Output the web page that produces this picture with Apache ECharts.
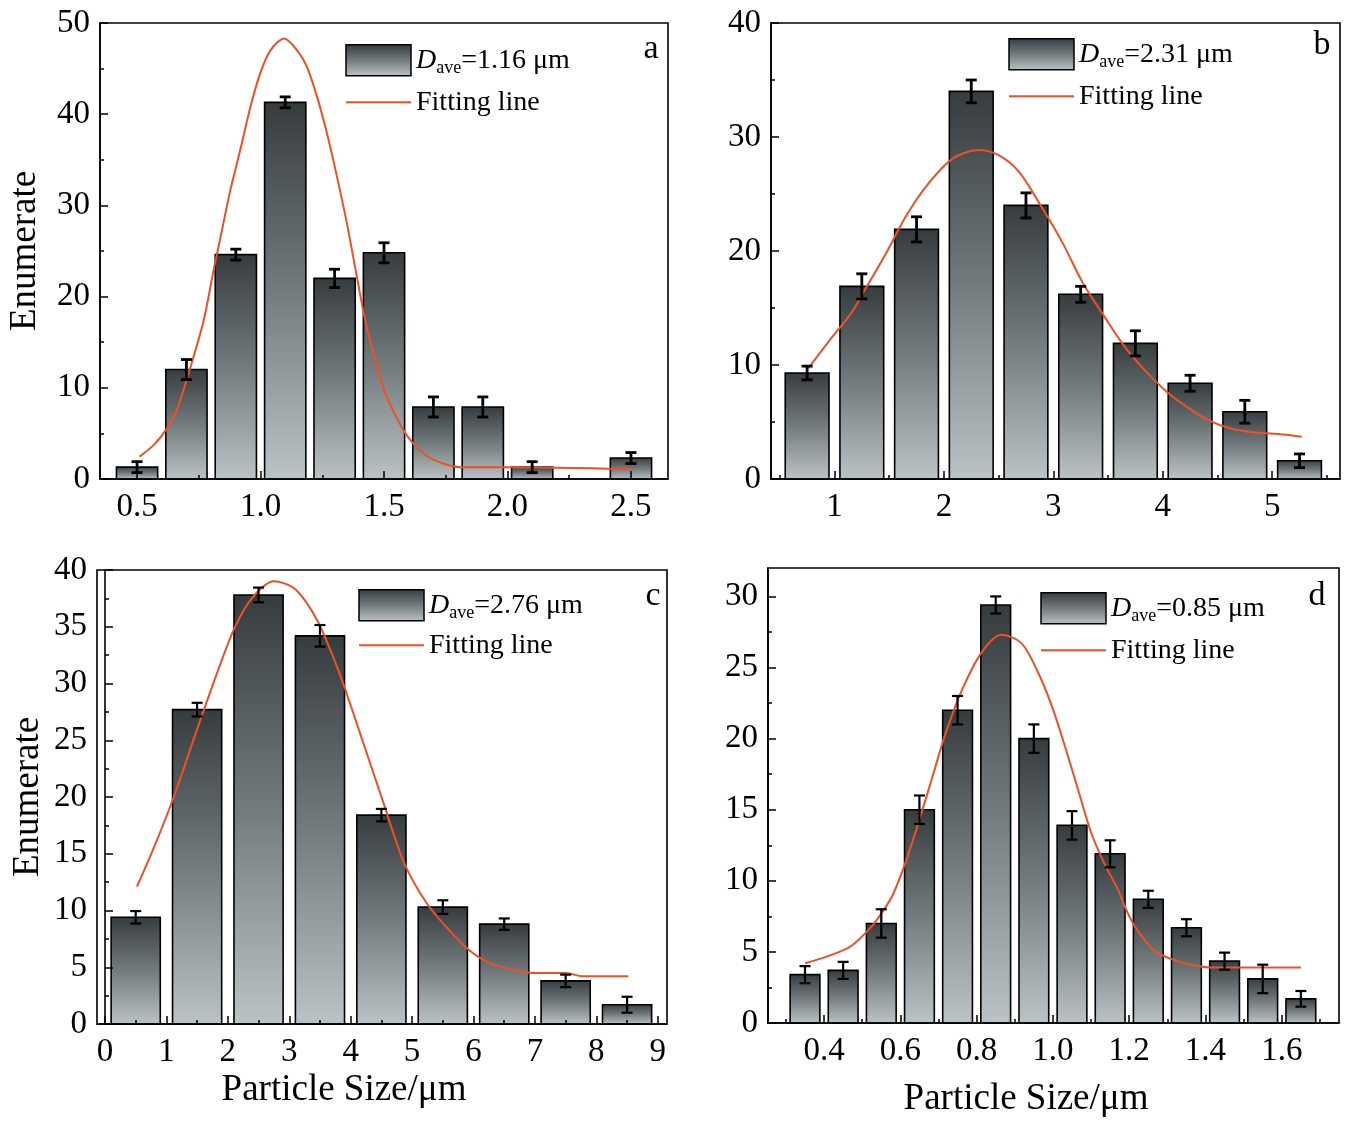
<!DOCTYPE html>
<html>
<head>
<meta charset="utf-8">
<title>Particle size distributions</title>
<script src="https://cdn.jsdelivr.net/npm/echarts@6/dist/echarts.min.js"></script>
</head>
<body style="margin:0;padding:0;background:#fff">
<div id="main" style="width:1346px;height:1121px;"></div>
<script type="text/javascript">
var FONT = '"Liberation Serif", "Times New Roman", serif';
var RED = '#ef5026';

// panel a
var aX = [0.5, 0.7, 0.9, 1.1, 1.3, 1.5, 1.7, 1.9, 2.1, 2.5];
var aCount = [1.3, 12.0, 24.6, 41.3, 22.0, 24.8, 7.9, 7.9, 1.3, 2.3];
var aErr = [0.6, 1.1, 0.6, 0.6, 1.0, 1.1, 1.1, 1.1, 0.6, 0.6];
var aFitX = [0.51, 0.57, 0.62, 0.66, 0.71, 0.77, 0.81, 0.844, 0.878, 0.918, 0.959, 0.999, 1.04, 1.096, 1.148, 1.188, 1.229, 1.269, 1.31, 1.35, 1.39, 1.43, 1.50, 1.55, 1.60, 1.67, 1.74, 1.81, 2.00, 2.50];
var aFitY = [2.45, 3.8, 5.5, 7.5, 11.7, 17.4, 22.9, 27.3, 31.7, 36.1, 40.8, 44.5, 47.0, 48.3, 47.0, 45.2, 41.9, 37.9, 33.1, 28.0, 22.2, 16.7, 9.8, 6.8, 4.5, 2.6, 1.7, 1.3, 1.3, 1.1];
var aXTicks = [0.5, 1.0, 1.5, 2.0, 2.5];
var aXMinor = [0.75, 1.25, 1.75, 2.25];
var aYTicks = [0, 10, 20, 30, 40, 50];
var aYMinor = [5, 15, 25, 35, 45];
var aDave = '1.16';

// panel b
var bX = [0.75, 1.25, 1.75, 2.25, 2.75, 3.25, 3.75, 4.25, 4.75, 5.25];
var bCount = [9.3, 16.9, 21.9, 34.0, 24.0, 16.2, 11.9, 8.4, 5.9, 1.6];
var bErr = [0.6, 1.1, 1.1, 1.0, 1.1, 0.7, 1.1, 0.7, 1.0, 0.6];
var bFitX = [0.76, 0.95, 1.15, 1.26, 1.46, 1.65, 1.84, 2.08, 2.31, 2.50, 2.69, 2.89, 3.08, 3.27, 3.47, 3.66, 3.85, 4.05, 4.24, 4.43, 4.63, 4.82, 5.10, 5.27];
var bFitY = [9.7, 12.1, 14.5, 16.3, 19.6, 23.0, 25.7, 28.1, 28.85, 28.4, 26.9, 23.9, 20.8, 17.2, 14.2, 11.5, 9.4, 7.55, 6.2, 5.1, 4.4, 4.1, 3.9, 3.7];
var bXTicks = [1, 2, 3, 4, 5];
var bXMinor = [0.5, 1.5, 2.5, 3.5, 4.5, 5.5];
var bYTicks = [0, 10, 20, 30, 40];
var bYMinor = [5, 15, 25, 35];
var bDave = '2.31';

// panel c
var cX = [0.5, 1.5, 2.5, 3.5, 4.5, 5.5, 6.5, 7.5, 8.5];
var cCount = [9.4, 27.7, 37.8, 34.2, 18.4, 10.3, 8.8, 3.8, 1.7];
var cErr = [0.55, 0.6, 0.65, 0.95, 0.55, 0.6, 0.5, 0.55, 0.7];
var cFitX = [0.52, 0.77, 1.12, 1.47, 1.83, 2.11, 2.39, 2.75, 3.10, 3.46, 3.81, 4.16, 4.52, 4.87, 5.23, 5.58, 5.93, 6.29, 6.64, 6.96, 7.50, 7.78, 8.52];
var cFitY = [12.1, 15.2, 20.0, 25.5, 31.0, 34.9, 37.5, 39.0, 38.3, 35.5, 31.0, 25.5, 19.7, 14.2, 10.7, 8.4, 6.5, 5.3, 4.8, 4.5, 4.5, 4.2, 4.2];
var cXTicks = [0, 1, 2, 3, 4, 5, 6, 7, 8, 9];
var cXMinor = [0.5, 1.5, 2.5, 3.5, 4.5, 5.5, 6.5, 7.5, 8.5];
var cYTicks = [0, 5, 10, 15, 20, 25, 30, 35, 40];
var cYMinor = [2.5, 7.5, 12.5, 17.5, 22.5, 27.5, 32.5, 37.5];
var cDave = '2.76';

// panel d
var dX = [0.35, 0.45, 0.55, 0.65, 0.75, 0.85, 0.95, 1.05, 1.15, 1.25, 1.35, 1.45, 1.55, 1.65];
var dCount = [3.4, 3.7, 7.0, 15.0, 22.0, 29.4, 20.0, 13.9, 11.9, 8.7, 6.7, 4.35, 3.1, 1.7];
var dErr = [0.6, 0.6, 1.0, 1.0, 1.0, 0.6, 1.0, 1.0, 0.95, 0.6, 0.6, 0.6, 1.0, 0.55];
var dFitX = [0.35, 0.41, 0.47, 0.525, 0.555, 0.58, 0.615, 0.65, 0.684, 0.719, 0.762, 0.814, 0.866, 0.918, 0.962, 0.997, 1.031, 1.066, 1.10, 1.135, 1.17, 1.20, 1.23, 1.27, 1.32, 1.36, 1.42, 1.65];
var dFitY = [4.2, 4.7, 5.4, 6.8, 7.9, 9.0, 11.4, 14.3, 17.3, 20.4, 23.45, 26.1, 27.3, 26.7, 24.6, 22.3, 19.5, 16.4, 13.4, 11.2, 9.4, 7.5, 6.2, 5.0, 4.4, 4.1, 3.9, 3.9];
var dXTicks = [0.4, 0.6, 0.8, 1.0, 1.2, 1.4, 1.6];
var dXMinor = [0.3, 0.5, 0.7, 0.9, 1.1, 1.3, 1.5, 1.7];
var dYTicks = [0, 5, 10, 15, 20, 25, 30];
var dYMinor = [2.5, 7.5, 12.5, 17.5, 22.5, 27.5];
var dDave = '0.85';

function zip() {
    var cols = Array.prototype.slice.call(arguments);
    return cols[0].map(function (v, i) {
        return cols.map(function (c) { return c[i]; });
    });
}

function barFill() {
    return new echarts.graphic.LinearGradient(0, 0, 0, 1, [
        { offset: 0, color: '#363b3e' },
        { offset: 0.5, color: '#737b7f' },
        { offset: 1, color: '#bcc3c6' }
    ]);
}

var panels = [
    { key: 'a', x: aX, y: aCount, e: aErr, fx: aFitX, fy: aFitY, w: 0.167, dave: aDave,
      xmin: 0.35, xmax: 2.65, ymax: 50, xt: aXTicks, xm: aXMinor, yt: aYTicks, ym: aYMinor, dec: 1,
      grid: { left: 100, top: 23, width: 568, height: 456 },
      legend: { left: 345, top: 44, gap: 11 }, letter: [651, 49], errW: 2.8,
      yName: 'Enumerate', yGap: 56 },
    { key: 'b', x: bX, y: bCount, e: bErr, fx: bFitX, fy: bFitY, w: 0.4, dave: bDave,
      xmin: 0.42, xmax: 5.62, ymax: 40, xt: bXTicks, xm: bXMinor, yt: bYTicks, ym: bYMinor, dec: 0,
      grid: { left: 771, top: 23, width: 569, height: 456 },
      legend: { left: 1008, top: 38, gap: 11 }, letter: [1322, 45], errW: 2.8 },
    { key: 'c', x: cX, y: cCount, e: cErr, fx: cFitX, fy: cFitY, w: 0.8, dave: cDave,
      xmin: -0.13, xmax: 9.15, ymax: 40, xt: cXTicks, xm: cXMinor, yt: cYTicks, ym: cYMinor, dec: 0,
      grid: { left: 97, top: 570, width: 570, height: 454 },
      legend: { left: 358, top: 589, gap: 9 }, letter: [653, 596], errW: 2.2,
      yName: 'Enumerate', yGap: 50, xName: 'Particle Size/\u03bcm', xGap: 48, xShift: 76 },
    { key: 'd', x: dX, y: dCount, e: dErr, fx: dFitX, fy: dFitY, w: 0.078, dave: dDave,
      xmin: 0.253, xmax: 1.75, ymax: 32, xt: dXTicks, xm: dXMinor, yt: dYTicks, ym: dYMinor, dec: 1,
      grid: { left: 768, top: 568, width: 571, height: 455 },
      legend: { left: 1040, top: 592, gap: 11 }, letter: [1317, 596], errW: 2.2,
      xName: 'Particle Size/\u03bcm', xGap: 58, xShift: 55 }
];

var grids = [], xAxes = [], yAxes = [], series = [], legends = [], texts = [];
var daveOf = {};

panels.forEach(function (p, gi) {
    grids.push({
        left: p.grid.left, top: p.grid.top, width: p.grid.width, height: p.grid.height,
        show: true, borderColor: '#000', borderWidth: 1.6, backgroundColor: 'transparent',
        outerBoundsMode: 'none'
    });
    var xi = xAxes.length, yi = yAxes.length;
    var lbl = { fontFamily: FONT, fontSize: 33, color: '#000' };
    // main axes
    xAxes.push({
        type: 'value', gridIndex: gi, position: 'bottom', min: p.xmin, max: p.xmax, z: 5,
        axisLine: { lineStyle: { color: '#000', width: 1.6 } },
        axisTick: { inside: true, length: 8, lineStyle: { color: '#000', width: 1.5 }, customValues: p.xt },
        axisLabel: Object.assign({ margin: 12, customValues: p.xt, formatter: function (v) { return v.toFixed(p.dec); } }, lbl),
        splitLine: { show: false },
        name: p.xName || '', nameLocation: 'middle', nameGap: p.xGap || 0,
        nameTextStyle: { fontFamily: FONT, fontSize: 37, color: '#000', padding: [0, p.xShift || 0, 0, 0] }
    });
    yAxes.push({
        type: 'value', gridIndex: gi, position: 'left', min: 0, max: p.ymax, z: 5,
        axisLine: { lineStyle: { color: '#000', width: 1.6 } },
        axisTick: { inside: true, length: 8, lineStyle: { color: '#000', width: 1.5 }, customValues: p.yt },
        axisLabel: Object.assign({ margin: 10, customValues: p.yt }, lbl),
        splitLine: { show: false },
        name: p.yName || '', nameLocation: 'middle', nameGap: p.yGap || 0,
        nameTextStyle: { fontFamily: FONT, fontSize: 37, color: '#000' }
    });
    // minor tick axes
    xAxes.push({
        type: 'value', gridIndex: gi, position: 'bottom', min: p.xmin, max: p.xmax, z: 5,
        axisLine: { show: false },
        axisTick: { inside: true, length: 4, lineStyle: { color: '#000', width: 1.5 }, customValues: p.xm },
        axisLabel: { show: false, customValues: p.xm },
        splitLine: { show: false }
    });
    yAxes.push({
        type: 'value', gridIndex: gi, position: 'left', min: 0, max: p.ymax, z: 5,
        axisLine: { show: false },
        axisTick: { inside: true, length: 4, lineStyle: { color: '#000', width: 1.5 }, customValues: p.ym },
        axisLabel: { show: false, customValues: p.ym },
        splitLine: { show: false }
    });

    var barName = 'Dave-' + p.key;
    daveOf[barName] = p.dave;
    var w = p.w, ew = p.errW;
    series.push({
        name: barName, type: 'custom', xAxisIndex: xi, yAxisIndex: yi, z: 2,
        itemStyle: { color: barFill(), borderColor: '#000', borderWidth: 1.5 },
        encode: { x: 0, y: 1 },
        data: zip(p.x, p.y),
        renderItem: function (params, api) {
            var x = api.value(0), y = api.value(1);
            var p0 = api.coord([x - w / 2, y]);
            var p1 = api.coord([x + w / 2, 0]);
            return {
                type: 'rect',
                shape: { x: p0[0], y: p0[1], width: p1[0] - p0[0], height: p1[1] - p0[1] },
                style: { fill: barFill(), stroke: '#000', lineWidth: 1.6 }
            };
        }
    });
    series.push({
        name: 'err-' + p.key, type: 'custom', xAxisIndex: xi, yAxisIndex: yi, z: 6,
        encode: { x: 0, y: 1 },
        data: zip(p.x, p.y, p.e),
        renderItem: function (params, api) {
            var x = api.value(0), y = api.value(1), e = api.value(2);
            var t = api.coord([x, y + e]), b = api.coord([x, y - e]);
            var cap = 5.5, st = { stroke: '#000', lineWidth: ew };
            return {
                type: 'group',
                children: [
                    { type: 'line', shape: { x1: t[0], y1: t[1], x2: b[0], y2: b[1] }, style: st },
                    { type: 'line', shape: { x1: t[0] - cap, y1: t[1], x2: t[0] + cap, y2: t[1] }, style: st },
                    { type: 'line', shape: { x1: b[0] - cap, y1: b[1], x2: b[0] + cap, y2: b[1] }, style: st }
                ]
            };
        }
    });
    series.push({
        name: 'Fitting line', type: 'line', xAxisIndex: xi, yAxisIndex: yi, z: 4,
        data: zip(p.fx, p.fy), smooth: 0.3, symbol: 'none',
        lineStyle: { color: RED, width: 2 }, itemStyle: { color: RED }
    });

    legends.push({
        orient: 'vertical', left: p.legend.left, top: p.legend.top, padding: 0,
        itemWidth: 65, itemHeight: 31, itemGap: p.legend.gap, selectedMode: false,
        data: [
            { name: barName, icon: 'rect', itemStyle: { color: barFill(), borderColor: '#000', borderWidth: 1.5 } },
            { name: 'Fitting line', itemStyle: { color: 'rgba(0,0,0,0)', borderWidth: 0, opacity: 0 },
              lineStyle: { color: RED, width: 2 } }
        ],
        formatter: function (name) {
            if (name === 'Fitting line') return '{n|Fitting line}';
            return '{i|D}{s|ave}{n|=' + daveOf[name] + ' \u03bcm}';
        },
        textStyle: {
            fontFamily: FONT, fontSize: 28, color: '#000',
            rich: {
                i: { fontFamily: FONT, fontSize: 28, fontStyle: 'italic', color: '#000' },
                s: { fontFamily: FONT, fontSize: 18, color: '#000', padding: [16, 0, 0, 0] },
                n: { fontFamily: FONT, fontSize: 28, color: '#000' }
            }
        }
    });

    texts.push({
        type: 'text', x: p.letter[0], y: p.letter[1], z: 10,
        style: { text: p.key, font: '34px ' + FONT, fill: '#000', align: 'center', verticalAlign: 'middle' }
    });
});

var myChart = echarts.init(document.getElementById('main'));
myChart.setOption({
    backgroundColor: '#fff',
    animation: false,
    grid: grids,
    xAxis: xAxes,
    yAxis: yAxes,
    legend: legends,
    series: series,
    graphic: texts
});
</script>
</body>
</html>
